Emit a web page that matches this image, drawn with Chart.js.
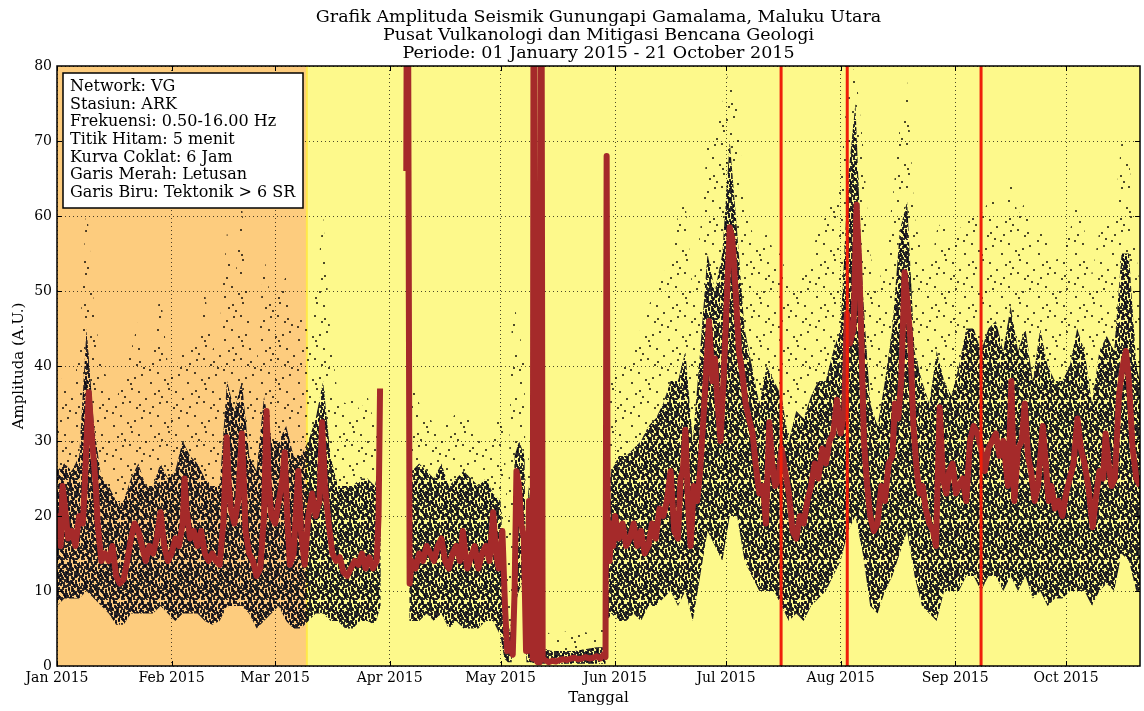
<!DOCTYPE html>
<html>
<head>
<meta charset="utf-8">
<script src="https://cdn.jsdelivr.net/npm/chart.js@4.4.1/dist/chart.umd.min.js"></script>
<style>
  html, body { margin: 0; padding: 0; background: #fff; }
  #wrap { width: 1144px; height: 711px; }
</style>
</head>
<body>
<div id="wrap"><canvas id="grafik" width="1144" height="711"></canvas></div>
<script>
// sumbu x = hari ke-n sejak 1 Januari 2015
const bulanHari = [0, 31, 59, 90, 120, 151, 181, 212, 243, 273]
const bulanLabel = ['Jan 2015', 'Feb 2015', 'Mar 2015', 'Apr 2015', 'May 2015',
  'Jun 2015', 'Jul 2015', 'Aug 2015', 'Sep 2015', 'Oct 2015']
const hariAkhir = 293          // 21 Oktober 2015
const batasOranye = 67.6       // latar oranye s/d awal Maret
const garisMerah = [195.9, 213.8, 250.0]   // waktu letusan

// kurva coklat (rata-rata 6 jam): [hari, amplitudo]
const kurvaCoklat = [
  [0,17],[0.5,20],[1,16],[1.5,24],[2,22],[3,17],[4,18],[5,16],[6,20],[7,19],[7.5,24],[8,30],[8.6,36.5],
  [9.2,32],[10,27],[10.5,24],[11,19],[12,14],[13,15],[14,14],[15,16],[16,12],[17,11],[18,11.5],[19,14],
  [20,17],[21,19],[22,18],[23,16],[24,14],[25,16],[26,15],[27,17],[28,20.5],[29,16],[30,14],[31,15],
  [32,17],[33,16],[34,19],[34.5,25],[35,21],[36,17],[37,18],[38,16],[39,18],[40,15],[41,14],[42,15],
  [43,14],[44,13.5],[45,19],[45.9,30.5],[46.5,24],[47,21],[48,19],[49,22],[50,31],[50.6,24],[51,18],
  [52,15],[53,14],[54,12],[55,13],[56,20],[56.7,34],[57.3,24],[58,20],[59,19],[60,22],[61,25],[61.6,28.5],
  [62.3,20],[63,13.5],[64,15],[65.3,26],[66,18],[67,13.5],[68,20],[69,23],[70,20],[71,22],[71.7,32.5],
  [72.5,24],[73.5,19],[74.5,15],[75.5,14],[76.5,14.5],[77.5,12.5],[78.5,12],[79.5,13],[80.5,14],[81.5,13.5],
  [82.5,15],[83.5,13],[84.5,14.5],[85.5,13],[86.5,14],[87,20],[87.4,37],[90,null],
  [94.5,66],[94.8,120],[95.1,66],[95.4,11],[96,14],[97,13],[98,15],[99,14],[100,16],[101,15],[102,14],
  [103,16],[104,17],[105,14],[106,13],[107,15],[108,16],[109,14],[109.8,18],[110.5,15],[111,13],[112,14.5],
  [113,16],[114,13],[115,15],[116,16],[117,14],[118,20.5],[118.8,15],[119.5,13],[120.5,18],[121.2,8],
  [121.8,2],[122.5,3],[123.3,1.5],[123.8,10],[124.3,26],[125,24],[125.6,19],[126.3,17],[126.9,2],[127.3,2],
  [127.7,22],[128.4,22],[128.7,1],[129,120],[129.4,1],[130,0.5],[130.6,0.5],[131,120],[131.4,1],[132,0.8],
  [133,0.5],[134,0.7],[135,0.6],[136,0.8],[137,0.9],[138,0.8],[139,1],[140,1.1],[141,0.9],[142,1],
  [143,1.2],[144,1],[145,1.1],[146,1.3],[147,1],[147.8,1.5],[148.4,1.2],[148.7,68],[149,18],[149.5,14],
  [150,19],[150.5,16],[151,20],[152,17],[153,19],[154,16],[155,17],[156,19],[157,16],[158,18],[159,15],
  [160,16],[161,19],[162,17],[163,21],[164,20],[165,22],[166,26],[167,18],[168,17],[168.7,25],[169.3,26],
  [170,31.5],[170.7,22],[171.4,16],[172.3,24],[173.2,22],[174,26],[175,34],[176.4,46],[177.3,38],[178,41],
  [178.6,36],[179.5,30],[180.4,39],[181.3,50],[182,58.5],[182.7,57],[183.6,50],[184.5,42],[185.4,39],
  [186.3,35],[187.2,33],[188.2,31],[189,27],[190,23],[191,24],[191.8,19],[192.7,32.5],[193.5,27],[194.3,24],
  [195.2,25],[196,29],[197,26],[198,23],[199,18],[200,17],[201,20],[202,19],[203,22],[204,24],[205,27],
  [206,25],[207,29],[208,27],[209,30],[210,31],[211,35.5],[212,31],[213,34],[213.7,47],[214.5,43],
  [215.5,45],[216.3,61.5],[217,54],[217.6,44],[218.3,30],[219.2,24],[220,20],[221,18],[222,19],[223,24],
  [224,22],[225,27],[226,28],[226.7,35],[227.6,33],[228.4,38],[229.3,52.5],[230,49],[230.8,44],[231.7,32],
  [232.6,26],[233.4,23],[234.2,24],[235,21],[236,19],[237,18],[237.8,16],[238.8,34.5],[239.7,25],[240.6,23],
  [241.4,26],[242.3,27],[243.2,23],[244,24],[245,25],[246,22],[247,30],[248,32],[249,31],[250,29],
  [251,26],[252,29],[253,30],[254,31],[255,28],[256,30],[257.3,24],[258.2,38],[259,22],[260,29],[261,30],
  [261.8,35],[262.7,28],[263.5,26],[264.5,22],[265.4,24],[266.7,32],[267.5,27],[268.3,22],[269,24],
  [270,21],[271,22],[272,20],[273,23],[274,25],[275,27],[276.1,33],[277,29],[278,27],[279,24],[280.2,18.5],
  [281,22],[282,26],[283,25],[283.7,31],[284.5,27],[285.3,24],[286.2,25],[287.3,36],[288.3,40],[289.2,42],
  [290,38],[291,29],[292,25],[293,24]
]

// sebaran titik hitam (5 menit): [hari, batas bawah, batas atas rapat, batas atas jarang]
const awanTitik = [
  [0,8,26,35],[2,9,27,40],[4,9,26,36],[6,9,28,42],[8,10,45,62],[10,9,32,48],[12,8,25,40],[14,7,24,38],
  [16,5.5,22,35],[18,5.5,22,40],[20,7,25,42],[22,7,27,46],[24,7,24,40],[26,7,24,44],[28,8,27,50],
  [30,7,25,40],[32,6,26,38],[34,7,30,45],[36,7,28,42],[38,7,27,45],[40,6,25,50],[42,5.5,24,42],
  [44,6,24,45],[46,8,38,58],[48,8,34,50],[50,8,38,62],[52,7,28,46],[54,5,26,40],[56,6,36,55],
  [58,7,30,48],[60,8,30,50],[62,6,32,52],[64,5,28,45],[66,5,28,48],[68,6,30,45],[70,7,33,50],
  [72,7,38,60],[74,6,28,44],[76,6,24,36],[78,5,24,35],[80,5,24,36],[82,6,25,34],[84,6,25,36],
  [86,5.5,24,32],[87.6,8,28,38],[90,null,null,null],
  [95.3,6,24,40],[96,6,26,38],[98,6,27,35],[100,7,26,34],[102,6,25,32],[104,7,27,33],[106,5,24,32],
  [108,6,25,34],[110,5,26,35],[112,5,25,33],[114,5,24,32],[116,6,25,30],[118,6,23,30],[120,4,22,35],
  [121,1,12,30],[122,0.5,4,20],[123,0.5,6,45],[123.8,8,28,48],[125,10,30,45],[126.5,12,28,40],
  [127,0.5,3,8],[127.5,0.5,24,28],[128.5,0.5,20,26],[129,0.3,2.5,6],[134,0.3,2,4],[140,0.3,2,5],
  [146,0.3,2.5,4],[148.4,0.3,2.5,6],[148.9,6,24,40],[150,7,26,38],[152,6,28,40],[154,6,28,40],
  [156,7,29,43],[158,6,30,45],[160,8,32,48],[162,8,33,50],[164,9,35,52],[166,10,38,55],[168,8,38,60],
  [170,10,42,62],[172,6,30,50],[174,12,42,58],[176,18,55,70],[178,16,50,70],[180,14,55,75],
  [182,20,70,80],[184,20,58,75],[186,14,45,62],[188,12,40,58],[190,10,35,55],[192,10,40,58],
  [194,10,38,55],[196,8,36,55],[198,6,30,50],[200,7,34,52],[202,6,33,52],[204,8,36,55],[206,9,38,58],
  [208,10,38,60],[210,12,42,62],[212,14,45,65],[214,18,65,78],[216,20,75,80],[218,15,50,70],
  [220,8,35,55],[222,7,32,50],[224,10,38,55],[226,12,45,62],[228,15,58,72],[230,18,62,78],
  [232,12,42,60],[234,8,38,55],[236,7,35,52],[238,6,42,58],[240,10,38,60],[242,10,36,55],
  [244,10,40,58],[246,12,45,60],[248,12,45,62],[250,10,42,60],[252,12,45,62],[254,12,46,62],
  [256,10,42,58],[258,12,48,65],[260,10,42,60],[262,12,45,62],[264,9,38,55],[266,10,45,60],
  [268,8,40,56],[270,9,38,54],[272,9,38,55],[274,10,40,58],[276,10,45,62],[278,10,42,58],
  [280,8,35,52],[282,10,42,58],[284,11,44,60],[286,10,42,60],[288,15,55,70],[290,14,55,68],
  [292,10,40,55],[293,10,38,50]
]

const judul = [
  'Grafik Amplituda Seismik Gunungapi Gamalama, Maluku Utara',
  'Pusat Vulkanologi dan Mitigasi Bencana Geologi',
  'Periode: 01 January 2015 - 21 October 2015'
]
const keterangan = [
  'Network: VG', 'Stasiun: ARK', 'Frekuensi: 0.50-16.00 Hz', 'Titik Hitam: 5 menit',
  'Kurva Coklat: 6 Jam', 'Garis Merah: Letusan', 'Garis Biru: Tektonik > 6 SR'
]

const FONT = 'DejaVu Serif'
Chart.defaults.font.family = FONT
Chart.defaults.color = '#000'

const canvas = document.getElementById('grafik')
const ctx = canvas.getContext('2d')

// deret Halton untuk menyebar titik tekstur secara merata
function halton(i, b) {
  let f = 1, r = 0
  while (i > 0) { f /= b; r += f * (i % b); i = Math.floor(i / b) }
  return r
}

// tekstur titik-titik untuk mengisi area sebaran
function polaTitik(jumlah, w, h, warna, tinggiTitik) {
  const cv = document.createElement('canvas')
  cv.width = w; cv.height = h
  const g = cv.getContext('2d')
  g.fillStyle = warna
  for (let i = 1; i <= jumlah; i++) {
    g.fillRect(Math.floor(halton(i, 2) * w), Math.floor(halton(i, 3) * h), 2, tinggiTitik)
  }
  return ctx.createPattern(cv, 'repeat')
}

const kolom = (k) => awanTitik.map(r => ({ x: r[0], y: r[k] }))
const tanpaGaris = { borderWidth: 0, borderColor: 'rgba(0,0,0,0)', pointRadius: 0, tension: 0 }

const datasets = [
  { ...tanpaGaris, label: 'bawah', data: kolom(1), fill: false, order: 5 },
  { ...tanpaGaris, label: 'rapat', data: kolom(2), fill: '-1', backgroundColor: polaTitik(240, 40, 40, 'rgba(8,8,24,0.85)', 3), order: 4 },
  { ...tanpaGaris, label: 'jarang', data: kolom(3), fill: '-1', backgroundColor: polaTitik(19, 37, 43, 'rgba(0,0,0,0.7)', 2), order: 3 },
  {
    label: 'Kurva Coklat', data: kurvaCoklat.map(p => ({ x: p[0], y: p[1] })),
    borderColor: '#a52a2a', borderWidth: 6, pointRadius: 0, fill: false, tension: 0,
    spanGaps: false, clip: 0, order: 2, borderJoinStyle: 'round'
  },
  ...garisMerah.map(h => ({
    label: 'Letusan', data: [{ x: h, y: 0 }, { x: h, y: 80 }],
    borderColor: '#f01e0a', borderWidth: 3, pointRadius: 0, fill: false, clip: 0, order: 0
  }))
]

const latar = {
  id: 'latar',
  beforeDraw(chart) {
    const { ctx, chartArea: a, scales: { x } } = chart
    ctx.save()
    ctx.fillStyle = '#fff'
    ctx.fillRect(0, 0, chart.width, chart.height)
    ctx.fillStyle = '#fdf98b'
    ctx.fillRect(a.left, a.top, a.width, a.height)
    const xb = x.getPixelForValue(batasOranye)
    ctx.fillStyle = '#fdcc7e'
    ctx.fillRect(a.left, a.top, xb - a.left, a.height)
    ctx.fillStyle = '#ffe84a'
    ctx.fillRect(xb - 1, a.top, 2, a.height)

    // judul, di tengah area plot
    ctx.fillStyle = '#000'
    ctx.font = '17.5px "' + FONT + '"'
    ctx.textAlign = 'center'
    ctx.textBaseline = 'middle'
    const cx = (a.left + a.right) / 2
    judul.forEach((t, i) => ctx.fillText(t, cx, 17 + i * 18))
    ctx.restore()
  }
}

const bingkai = {
  id: 'bingkai',
  afterDatasetsDraw(chart) {
    const { ctx, chartArea: a, scales: { x, y } } = chart
    ctx.save()
    ctx.strokeStyle = '#000'
    ctx.lineWidth = 1
    ctx.beginPath()
    // tick ke dalam
    bulanHari.forEach(v => {
      const px = Math.round(x.getPixelForValue(v)) + 0.5
      ctx.moveTo(px, a.bottom); ctx.lineTo(px, a.bottom - 5)
      ctx.moveTo(px, a.top); ctx.lineTo(px, a.top + 5)
    })
    for (let v = 10; v < 80; v += 10) {
      const py = Math.round(y.getPixelForValue(v)) + 0.5
      ctx.moveTo(a.left, py); ctx.lineTo(a.left + 5, py)
      ctx.moveTo(a.right, py); ctx.lineTo(a.right - 5, py)
    }
    ctx.stroke()
    ctx.lineWidth = 1.5
    ctx.strokeRect(a.left, a.top, a.width, a.height)

    // kotak keterangan
    const bx = a.left + 6, by = a.top + 7
    ctx.fillStyle = '#fff'
    ctx.fillRect(bx, by, 240, 135)
    ctx.strokeRect(bx, by, 240, 135)
    ctx.fillStyle = '#000'
    ctx.font = '16px "' + FONT + '"'
    ctx.textBaseline = 'middle'
    keterangan.forEach((t, i) => ctx.fillText(t, bx + 7, by + 14 + i * 17.6))
    ctx.restore()
  }
}

new Chart(ctx, {
  type: 'line',
  data: { datasets },
  plugins: [latar, bingkai],
  options: {
    responsive: false,
    animation: false,
    devicePixelRatio: 1,
    layout: { padding: { left: 0, right: 4, top: 66, bottom: 0 } },
    plugins: {
      legend: { display: false },
      tooltip: { enabled: false },
      title: { display: false }
    },
    scales: {
      x: {
        type: 'linear', min: 0, max: hariAkhir,
        afterFit: s => { s.height = 45 },
        afterBuildTicks: s => { s.ticks = bulanHari.map(v => ({ value: v })) },
        ticks: {
          autoSkip: false, maxRotation: 0, padding: 4, color: '#000',
          font: { family: FONT, size: 14 },
          callback: v => bulanLabel[bulanHari.indexOf(v)] || ''
        },
        grid: { color: 'rgba(0,0,0,0.7)', lineWidth: 1, drawTicks: false },
        border: { display: false, dash: [1, 3] },
        title: {
          display: true, text: 'Tanggal', color: '#000',
          font: { family: FONT, size: 15 }, padding: { top: 4, bottom: 4 }
        }
      },
      y: {
        min: 0, max: 80,
        afterFit: s => { s.width = 57 },
        ticks: { stepSize: 10, padding: 5, color: '#000', font: { family: FONT, size: 14 } },
        grid: { color: 'rgba(0,0,0,0.7)', lineWidth: 1, drawTicks: false },
        border: { display: false, dash: [1, 3] },
        title: {
          display: true, text: 'Amplituda (A.U.)', color: '#000',
          font: { family: FONT, size: 15 }, padding: { top: 10, bottom: 0 }
        }
      }
    }
  }
})
</script>
</body>
</html>
